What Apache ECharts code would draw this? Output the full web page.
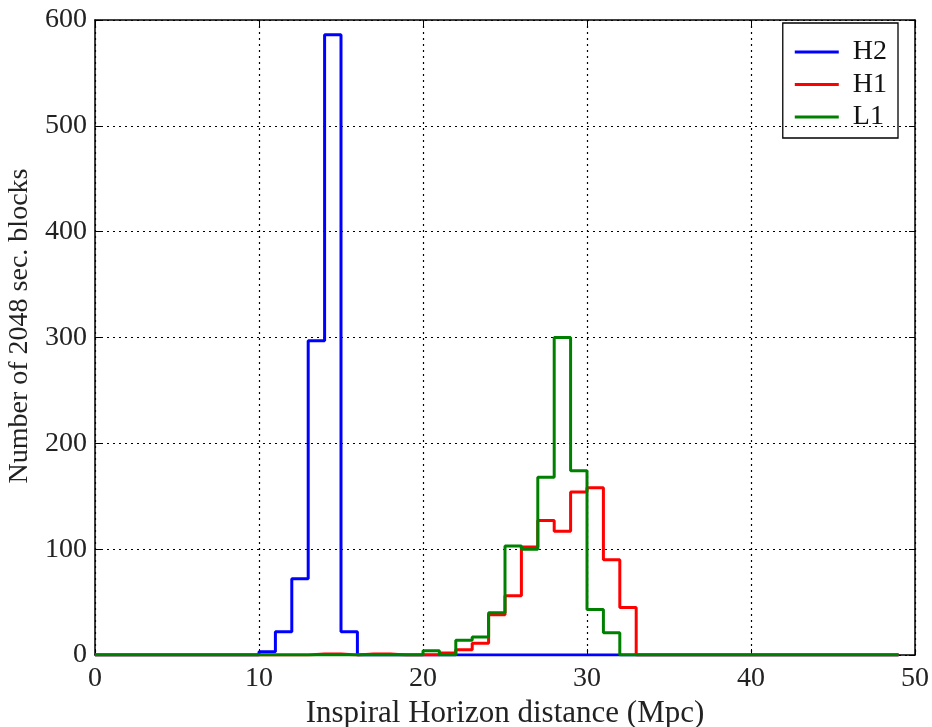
<!DOCTYPE html>
<html><head><meta charset="utf-8">
<script src="https://cdn.jsdelivr.net/npm/echarts@6/dist/echarts.min.js"></script>
<style>html,body{margin:0;padding:0;background:#fff}#c{width:932px;height:727px}</style>
</head><body><div id="c"></div>
<script>
// Bin left edges 0..48 (1 Mpc bins), last edge 49
const binEdges = Array.from({length: 50}, (_, i) => i);
const seriesNames = ['H2', 'H1', 'L1'];
// counts per bin (index = bin left edge)
const H2 = [0,0,0,0,0,0,0,0,0,0, 3,22,72,297,586,22,0,0,0,0, 0,0,0,0,0,0,0,0,0,0, 0,0,0,0,0,0,0,0,0,0, 0,0,0,0,0,0,0,0,0];
const H1 = [0,0,0,0,0,0,0,0,0,0, 0,0,0,1,1,0,1,1,0,0, 0,2,5,11,38,56,102,127,117,154, 158,90,45,0,0,0,0,0,0,0, 0,0,0,0,0,0,0,0,0];
const L1 = [0,0,0,0,0,0,0,0,0,0, 0,0,0,0,0,0,0,0,0,0, 4,0,14,17,40,103,100,168,300,174, 43,21,0,0,0,0,0,0,0,0, 0,0,0,0,0,0,0,0,0];
const colors = ['#0000ff', '#ff0000', '#008000'];

function stepData(vals) {
  const d = vals.map((v, i) => [binEdges[i], v]);
  d.push([binEdges[vals.length], 0]);
  return d;
}
const FONT = 'Liberation Serif';
const chart = echarts.init(document.getElementById('c'), null, {renderer: 'canvas'});
const axisCommon = {
  axisLine: {show: true, onZero: false, lineStyle: {color: '#000', width: 1.5}},
  axisTick: {show: true, inside: true, length: 6, lineStyle: {color: '#000', width: 1}},
};
chart.setOption({
  animation: false,
  grid: {left: 95, right: 17, top: 20, bottom: 72, containLabel: false, outerBoundsMode: 'none'},
  legend: {
    data: seriesNames.map(n => ({name: n, icon: 'rect'})),
    orient: 'vertical', right: 34, top: 23,
    itemWidth: 44, itemHeight: 3, itemGap: 4.5,
    padding: [15, 11, 7, 12],
    borderColor: '#000', borderWidth: 1.3,
    textStyle: {fontFamily: FONT, fontSize: 28, lineHeight: 28, color: '#111', padding: [0, 0, 0, 9]}
  },
  xAxis: [
    Object.assign({type: 'value', min: 0, max: 50, interval: 10,
      name: 'Inspiral Horizon distance (Mpc)', nameLocation: 'middle', nameGap: 43,
      nameTextStyle: {fontFamily: FONT, fontSize: 31, color: '#222'},
      axisLabel: {fontFamily: FONT, fontSize: 28, color: '#222', margin: 10},
      splitLine: {show: true, lineStyle: {color: '#000', width: 1.2, type: [2, 4]}}}, axisCommon),
    Object.assign({type: 'value', position: 'top', min: 0, max: 50, interval: 10,
      axisLabel: {show: false}, splitLine: {show: false}}, axisCommon)
  ],
  yAxis: [
    Object.assign({type: 'value', min: 0, max: 600, interval: 100,
      name: 'Number of 2048 sec. blocks', nameLocation: 'middle', nameGap: 59, nameRotate: 90,
      nameTextStyle: {fontFamily: FONT, fontSize: 28, color: '#222', padding: [0, 0, 0, 23]},
      axisLabel: {fontFamily: FONT, fontSize: 28, color: '#222', margin: 8},
      splitLine: {show: true, lineStyle: {color: '#000', width: 1.2, type: [2, 4]}}}, axisCommon),
    Object.assign({type: 'value', position: 'right', min: 0, max: 600, interval: 100,
      axisLabel: {show: false}, splitLine: {show: false}}, axisCommon)
  ],
  series: seriesNames.map((n, k) => ({
    name: n, type: 'line', step: 'end', showSymbol: false, symbol: 'none',
    data: stepData([H2, H1, L1][k]),
    lineStyle: {color: colors[k], width: 3}, itemStyle: {color: colors[k]},
    z: 3 + k
  }))
});
</script></body></html>
